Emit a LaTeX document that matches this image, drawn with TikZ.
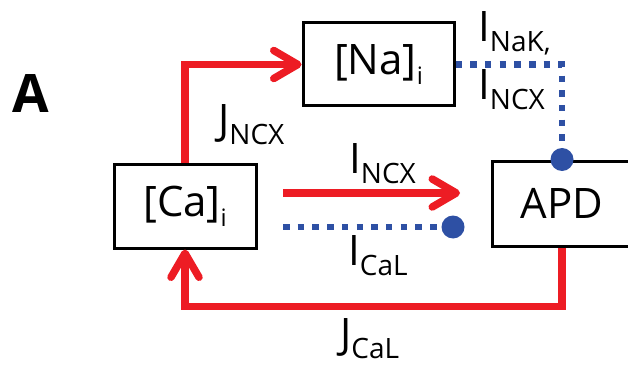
\documentclass[tikz,border=0pt]{standalone}
\usepackage{fontspec}
\setmainfont{Open Sans}
\usetikzlibrary{arrows.meta}
\definecolor{myred}{RGB}{237,28,36}
\definecolor{myblue}{RGB}{46,80,164}
\newcommand\sbx[1]{\raisebox{-10pt}{\fontsize{28}{28}\selectfont #1}}
\newcommand\sbi[1]{\raisebox{-10pt}{\fontsize{24}{24}\selectfont #1}}
\tikzset{
  box/.style={draw=black, line width=3pt, inner sep=0pt, font=\fontsize{42}{42}\selectfont},
  redarrow/.style={draw=myred, line width=7.5pt, -{Straight Barb[length=24pt,width=28pt,round]}},
  redline/.style={draw=myred, line width=7.5pt},
  bluedash/.style={draw=myblue, line width=6.5pt, dash pattern=on 6.5pt off 8.2pt},
  bluedot/.style={fill=myblue, draw=none},
  lbl/.style={anchor=base west, inner sep=0pt, font=\fontsize{42}{42}\selectfont}
}
\begin{document}
\begin{tikzpicture}[x=1pt,y=-1pt]
\useasboundingbox (0,0) rectangle (628,366);
\clip (0,0) rectangle (628,366);
% boxes
\node[box, minimum width=151pt, minimum height=83pt] (na) at (378.5,64.5) {[Na]\sbi{i}};
\node[box, minimum width=142pt, minimum height=84pt] (ca) at (185,206) {[Ca]\sbi{i}};
\node[box, minimum width=140pt, minimum height=85pt] (apd) at (562,203.5) {APD};
% free ends
\coordinate (incxs) at (283,193);
\coordinate (incxe) at (460,193);
\coordinate (icals) at (283,227);
\coordinate (icale) at (453,227);
% connectors
\draw[redarrow] (ca.north) |- (na.west);
\draw[redarrow] (incxs) -- (incxe);
\draw[bluedash] (icals) -- (icale);
\fill[bluedot] (icale) circle (11.5pt);
\draw[bluedash] (na.east) -| (apd.north);
\fill[bluedot] (apd.north) circle (11.5pt);
\draw[redarrow] (apd.south) -- ++(0,59) -| (ca.south);
% labels
\node[lbl, font=\fontsize{53}{53}\selectfont\bfseries] (lA) at (12,113) {A};
\node[lbl] (ljncx) at (218,135) {J\sbx{NCX}};
\node[lbl] (lincx) at (349,173) {I\sbx{NCX}};
\node[lbl] (linak) at (478,42) {I\sbx{NaK,}};
\node[lbl] (lincx2) at (478,100) {I\sbx{NCX}};
\node[lbl] (lical) at (348,265) {I\sbx{CaL}};
\node[lbl] (ljcal) at (340,348) {J\sbx{CaL}};
\end{tikzpicture}
\end{document}
